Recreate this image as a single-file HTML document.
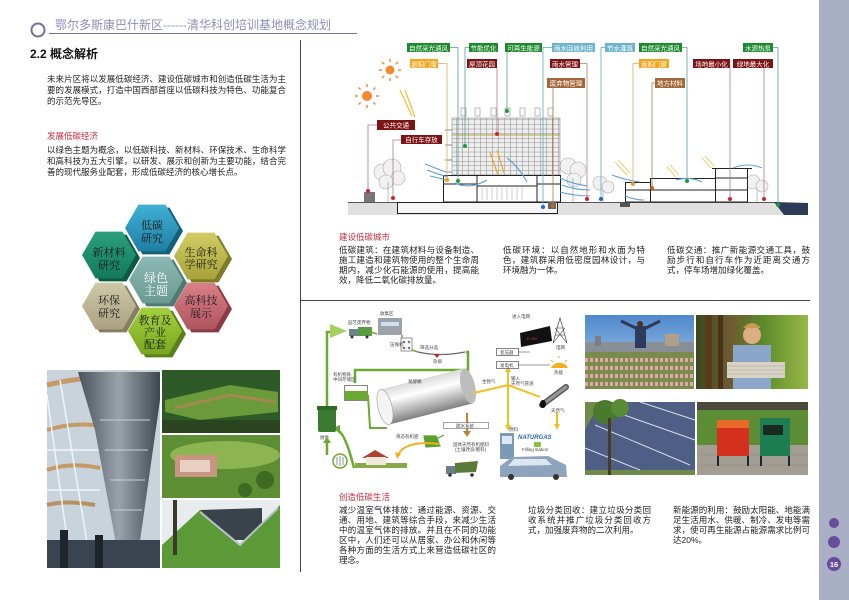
<!DOCTYPE html>
<html><head><meta charset="utf-8">
<style>
html,body{margin:0;padding:0;}
body{width:849px;height:600px;overflow:hidden;position:relative;background:#fff;font-family:"Liberation Sans","Noto Sans CJK SC",sans-serif;}
.t{position:absolute;font-size:8.5px;line-height:11px;color:#222;white-space:nowrap;}
.t div{text-align:justify;text-align-last:justify;}
.t div.l{text-align-last:left;}
.red{position:absolute;font-size:8.5px;line-height:10px;color:#c8283c;white-space:nowrap;}
svg{position:absolute;left:0;top:0;}
</style></head><body>
<svg width="849" height="600" viewBox="0 0 849 600" xmlns="http://www.w3.org/2000/svg">
<defs>
<pattern id="grid" width="6" height="4.6" patternUnits="userSpaceOnUse"><rect width="6" height="4.6" fill="#eeeeee"/><path d="M0,0.25H6M0.25,0V4.6" stroke="#8a8a8a" stroke-width="0.5"/></pattern>
<linearGradient id="cyl" gradientUnits="userSpaceOnUse" x1="380" y1="389" x2="389" y2="425"><stop offset="0" stop-color="#d8d8d8"/><stop offset="0.35" stop-color="#ffffff"/><stop offset="1" stop-color="#7e7e7e"/></linearGradient>
<linearGradient id="sky1" x1="0" y1="0" x2="0" y2="1"><stop offset="0" stop-color="#4f88cc"/><stop offset="1" stop-color="#b6d2ec"/></linearGradient>
<linearGradient id="dome" x1="0" y1="0" x2="1" y2="0"><stop offset="0" stop-color="#4a525c"/><stop offset="0.5" stop-color="#9aa3ac"/><stop offset="1" stop-color="#3e4650"/></linearGradient>
<linearGradient id="forest" x1="0" y1="0" x2="1" y2="0"><stop offset="0" stop-color="#3b4a1e"/><stop offset="0.3" stop-color="#6e5a30"/><stop offset="0.6" stop-color="#5c8a2a"/><stop offset="1" stop-color="#9ab848"/></linearGradient>
<linearGradient id="hT" x1="0" y1="0" x2="0" y2="1"><stop offset="0" stop-color="#3fb0d4"/><stop offset="1" stop-color="#1e7fa3"/></linearGradient>
<linearGradient id="hUL" x1="0" y1="0" x2="0" y2="1"><stop offset="0" stop-color="#2ba07c"/><stop offset="1" stop-color="#137a5c"/></linearGradient>
<linearGradient id="hUR" x1="0" y1="0" x2="0" y2="1"><stop offset="0" stop-color="#d2cc66"/><stop offset="1" stop-color="#a8a23a"/></linearGradient>
<linearGradient id="hC" x1="0" y1="0" x2="0" y2="1"><stop offset="0" stop-color="#8cbab2"/><stop offset="1" stop-color="#6a9a92"/></linearGradient>
<linearGradient id="hLL" x1="0" y1="0" x2="0" y2="1"><stop offset="0" stop-color="#cfc8a8"/><stop offset="1" stop-color="#aaa282"/></linearGradient>
<linearGradient id="hLR" x1="0" y1="0" x2="0" y2="1"><stop offset="0" stop-color="#d88088"/><stop offset="1" stop-color="#b0545e"/></linearGradient>
<linearGradient id="hB" x1="0" y1="0" x2="0" y2="1"><stop offset="0" stop-color="#a4d040"/><stop offset="1" stop-color="#78a820"/></linearGradient>
<polygon id="hex" points="27,0 13.5,23.4 -13.5,23.4 -27,0 -13.5,-23.4 13.5,-23.4"/>
</defs>

<!-- header -->
<circle cx="38" cy="30" r="6.5" fill="none" stroke="#6f6fa0" stroke-width="2"/>
<line x1="49" y1="33.5" x2="357" y2="33.5" stroke="#6f6fa0" stroke-width="1"/>
<!-- dividers -->
<line x1="300.5" y1="40" x2="300.5" y2="572" stroke="#444" stroke-width="1"/>
<line x1="300" y1="300.5" x2="810" y2="300.5" stroke="#444" stroke-width="1"/>
<!-- sidebar -->
<rect x="819" y="0" width="30" height="600" fill="#a9b0c6"/>
<circle cx="834" cy="523" r="5" fill="#6a4c9c"/>
<circle cx="834" cy="542" r="6" fill="#6a4c9c"/>
<circle cx="834" cy="564" r="7" fill="#6a4c9c"/>
<text x="834" y="567" font-size="7.5" font-weight="bold" fill="#fff" text-anchor="middle" font-family="Liberation Sans, sans-serif">16</text>

<!-- hexagons -->
<g font-family="Liberation Serif, Noto Serif CJK SC, serif" font-size="11" text-anchor="middle" fill="#1a1a1a">
<g transform="translate(156,280)"><use href="#hex" transform="translate(4,3)" fill="#4e7a74"/><use href="#hex" fill="url(#hC)"/></g>
<g transform="translate(152,228)"><use href="#hex" transform="translate(4,3)" fill="#156078"/><use href="#hex" fill="url(#hT)"/><text y="1">低碳</text><text y="14">研究</text></g>
<g transform="translate(109,255)"><use href="#hex" transform="translate(4,3)" fill="#0c5a42"/><use href="#hex" fill="url(#hUL)"/><text y="1">新材料</text><text y="14">研究</text></g>
<g transform="translate(201,256)"><use href="#hex" transform="translate(4,3)" fill="#7e7a26"/><use href="#hex" fill="url(#hUR)"/><text y="0">生命科</text><text y="12">学研究</text></g>
<g transform="translate(109,306)"><use href="#hex" transform="translate(4,3)" fill="#857e62"/><use href="#hex" fill="url(#hLL)"/><text y="-2">环保</text><text y="11">研究</text></g>
<g transform="translate(201,306)"><use href="#hex" transform="translate(4,3)" fill="#8a3a44"/><use href="#hex" fill="url(#hLR)"/><text y="-2">高科技</text><text y="11">展示</text></g>
<g transform="translate(155,331)"><use href="#hex" transform="translate(4,3)" fill="#5a8018"/><use href="#hex" fill="url(#hB)"/><text y="-7">教育及</text><text y="5">产业</text><text y="17">配套</text></g>
<g transform="translate(156,280)"><text y="2" fill="#fff" font-size="12">绿色</text><text y="15" fill="#fff" font-size="12">主题</text></g>
</g>

<!-- left photos -->
<g>
<rect x="47" y="370" width="113" height="198" fill="#c9d3dc"/>
<path d="M47,385 Q100,372 160,380" stroke="#c49a66" stroke-width="5" fill="none"/>
<path d="M47,430 Q80,420 110,428" stroke="#c49a66" stroke-width="4" fill="none"/>
<path d="M47,470 Q70,462 100,468" stroke="#c49a66" stroke-width="4" fill="none"/>
<path d="M47,505 Q65,500 95,505" stroke="#b89060" stroke-width="4" fill="none"/>
<path d="M47,395 L70,560 M60,380 L90,560 M47,450 L100,450 M47,490 L100,490" stroke="#f0f4f8" stroke-width="1.5" fill="none"/>
<polygon points="78,372 160,372 160,400 138,555 118,555 95,430" fill="url(#dome)"/>
<path d="M100,420 L150,420 M105,450 L148,450 M110,480 L145,480 M113,510 L142,510" stroke="#c7ced6" stroke-width="1"/>
<rect x="47" y="540" width="113" height="28" fill="#3a4350"/>
<rect x="60" y="530" width="8" height="38" fill="#1e242c"/><rect x="95" y="535" width="8" height="33" fill="#1e242c"/>
<rect x="162" y="370" width="118" height="63" fill="#2e5a28"/>
<polygon points="165,400 230,385 278,392 278,412 200,420 165,412" fill="#6a9a3a"/>
<path d="M175,408 L230,395 L275,402" stroke="#a08a50" stroke-width="3" fill="none"/>
<rect x="162" y="420" width="118" height="13" fill="#2a4520"/>
<rect x="162" y="435" width="118" height="63" fill="#5e8e34"/>
<ellipse cx="225" cy="455" rx="55" ry="14" fill="#8cb450"/>
<rect x="175" y="455" width="42" height="22" fill="#c89484"/>
<rect x="180" y="460" width="30" height="12" fill="#e8d0c0"/>
<circle cx="265" cy="480" r="9" fill="#3e6a24"/><circle cx="245" cy="490" r="7" fill="#3e6a24"/>
<rect x="162" y="500" width="118" height="68" fill="#e8ecef"/>
<polygon points="200,510 262,508 262,540 210,540" fill="#3a424c"/>
<polygon points="162,545 200,510 240,545 280,505 280,568 162,568" fill="#5c9a38"/>
<path d="M200,512 L240,545 L278,508" stroke="#b8c0c8" stroke-width="2" fill="none"/>
<rect x="173" y="500" width="4" height="55" fill="#3a3a2a"/>
</g>

<!-- right photos -->
<g>
<rect x="585" y="315" width="109" height="74" fill="url(#sky1)"/>
<rect x="585" y="342" width="109" height="12" fill="#8a8e96"/>
<rect x="595" y="336" width="6" height="10" fill="#7a7e86"/><rect x="665" y="334" width="14" height="12" fill="#b0a08a"/>
<rect x="585" y="352" width="109" height="37" fill="#7a8c4c"/>
<path d="M585,360 H694 M585,368 H694 M585,376 H694 M585,384 H694" stroke="#e0a8a8" stroke-width="4" stroke-dasharray="3 2"/>
<rect x="635" y="326" width="11" height="22" fill="#2e3a5c"/>
<path d="M621,321 L640,330 M660,321 L642,330" stroke="#2e3a5c" stroke-width="3"/>
<circle cx="640" cy="324" r="3" fill="#4a3426"/>
<rect x="696" y="315" width="112" height="74" fill="url(#forest)"/>
<rect x="705" y="315" width="7" height="74" fill="#5a3a1c"/><rect x="718" y="315" width="5" height="74" fill="#4a3018"/>
<rect x="733" y="345" width="38" height="44" fill="#8aa6c8"/>
<circle cx="752" cy="335" r="9" fill="#dcae86"/>
<path d="M743,328 Q752,318 761,328" fill="#c89a50"/>
<rect x="727" y="362" width="58" height="16" fill="#d8d2c4"/>
<path d="M727,366 H785 M727,370 H785 M727,374 H785" stroke="#a8a294" stroke-width="0.6"/>
<rect x="585" y="402" width="110" height="73" fill="#6f8a4a"/>
<polygon points="600,402 695,402 695,470 585,470 585,430" fill="#4e5e84"/>
<path d="M610,410 L695,440 M595,425 L690,465 M640,402 L695,420 M585,448 L640,470" stroke="#d6dde8" stroke-width="1"/>
<circle cx="605" cy="412" r="12" fill="#4a7a2e"/><circle cx="620" cy="408" r="9" fill="#5a8a36"/>
<rect x="608" y="418" width="3" height="57" fill="#4a3a28"/>
<rect x="697" y="402" width="111" height="73" fill="#5c8c34"/>
<rect x="697" y="402" width="111" height="8" fill="#4a4a3c"/>
<rect x="697" y="445" width="111" height="30" fill="#a39e94"/>
<path d="M697,455 H808 M697,465 H808" stroke="#8a857c" stroke-width="0.6"/>
<rect x="717" y="420" width="32" height="36" fill="#d4301e"/>
<rect x="717" y="420" width="32" height="8" fill="#e86a2a"/>
<rect x="760" y="418" width="30" height="38" fill="#1c7e52"/>
<rect x="763" y="425" width="20" height="10" fill="#1a2a22"/>
<path d="M718,456 V466 M748,456 V466 M761,456 V466 M789,456 V466" stroke="#1e2430" stroke-width="2"/>
</g>

<!-- building section diagram -->
<g>
<rect x="348" y="202" width="434" height="13" fill="#e0e0e0"/>
<line x1="348" y1="202.5" x2="775" y2="202.5" stroke="#555" stroke-width="1"/>
<polygon points="774,202 808,203 808,215 784,215" fill="#2e3b56"/>
<rect x="397.5" y="202.5" width="160" height="11" fill="#f6f6f6" stroke="#222" stroke-width="1"/>
<rect x="620" y="202" width="10" height="5" fill="#555"/>
<g fill="#f1f1f1" stroke="#aaa" stroke-width="0.6">
<circle cx="382" cy="172" r="8"/><circle cx="392" cy="168" r="9"/><circle cx="398" cy="178" r="7"/><circle cx="386" cy="182" r="7"/>
<circle cx="568" cy="166" r="8"/><circle cx="578" cy="170" r="8"/><circle cx="574" cy="180" r="7"/>
<circle cx="600" cy="183" r="7"/><circle cx="608" cy="187" r="6"/>
<circle cx="753" cy="182" r="7"/><circle cx="762" cy="186" r="6"/>
</g>
<path d="M388,202 V182 M573,202 V178 M603,202 V190 M757,202 V190" stroke="#aaa" stroke-width="0.8"/>
<rect x="452" y="118" width="108" height="57" fill="url(#grid)" stroke="#777" stroke-width="0.5"/>
<line x1="452" y1="135" x2="560" y2="135" stroke="#b4a642" stroke-width="1"/>
<g fill="#fff" stroke="#888" stroke-width="0.6">
<rect x="461" y="108" width="5" height="8"/><rect x="475" y="108" width="5" height="8"/><rect x="491" y="108" width="5" height="8"/><rect x="505" y="108" width="5" height="8"/><rect x="520" y="108" width="5" height="8"/><rect x="535" y="108" width="5" height="8"/><rect x="548" y="108" width="5" height="8"/>
</g>
<path d="M445,130 H452 M445,145 H452 M445,160 H452 M446,172 H452" stroke="#666" stroke-width="0.8"/>
<rect x="443.5" y="175.5" width="117" height="26.5" fill="#fff" stroke="#222" stroke-width="1"/>
<path d="M443,184 H477 M477,176 V202 M537,176 V202 M477,186 H537 M537,184 H560" stroke="#222" stroke-width="1" fill="none"/>
<path d="M482,186 V200 M487,186 V200 M492,186 V200 M497,186 V200 M502,186 V200 M507,186 V200 M512,186 V200 M517,186 V200 M522,186 V200" stroke="#999" stroke-width="0.5"/>
<rect x="548" y="202" width="8" height="7" fill="#666"/>
<rect x="625.5" y="182.5" width="38" height="19.5" fill="#fff" stroke="#222"/>
<rect x="650.5" y="178.5" width="65" height="23.5" fill="#fff" stroke="#222"/>
<rect x="715.5" y="168.5" width="32" height="33.5" fill="#fff" stroke="#222"/>
<path d="M625,190 H747 M715,178 H747 M712,168.5 H752" stroke="#222" stroke-width="1"/>
<g stroke="#f08a30" stroke-width="1.4">
<circle cx="390" cy="70" r="4.5" fill="#f08a30" stroke="none"/>
<path d="M390,62 V59 M390,78 V81 M382,70 H379 M398,70 H401 M384.3,64.3 L382,62 M395.7,64.3 L398,62 M384.3,75.7 L382,78 M395.7,75.7 L398,78"/>
<circle cx="367" cy="96" r="5" fill="#f08a30" stroke="none"/>
<path d="M367,87 V84 M367,105 V108 M358,96 H355 M376,96 H379 M360.6,89.6 L358.5,87.5 M373.4,89.6 L375.5,87.5 M360.6,102.4 L358.5,104.5 M373.4,102.4 L375.5,104.5"/>
</g>
<path d="M400,90 L412,116 M405,90 L415,117" stroke="#e8c040" stroke-width="1.2"/>
<path d="M490,152 L498,175 M497,150 L504,173" stroke="#e8a828" stroke-width="1.2"/>
<path d="M615,162 L627,175 M618,160 L630,173 M667,167 L676,177 M670,165 L679,175 M702,158 L711,168 M705,156 L714,166" stroke="#e8c040" stroke-width="0.8"/>
<g stroke="#5aa0d0" stroke-width="1.1" fill="none">
<path d="M425,164 Q435,168 446,172"/><path d="M427,170 Q437,174 448,177"/><path d="M430,176 Q440,178 449,181"/>
<path d="M455,183 Q470,190 487,180"/><path d="M507,158 Q518,166 527,182"/>
<path d="M560,178 Q572,184 588,186"/><path d="M562,185 Q575,190 590,190"/><path d="M560,192 Q575,196 590,196"/>
<path d="M612,175 Q625,180 640,182"/><path d="M625,196 Q635,200 644,200"/>
<path d="M676,180 Q690,176 702,182"/><path d="M733,168 Q748,162 762,168"/>
</g>
<g fill="none" stroke-width="0.8">
<path d="M450,47.5 H458 V181" stroke="#5a9aa0"/>
<path d="M469,47.5 H465 V146" stroke="#5a9aa0"/>
<path d="M507,52 V111" stroke="#5a9aa0"/>
<path d="M552,47.5 H543 V207" stroke="#5aa8c8"/>
<path d="M580,63.5 H587 V199" stroke="#b47a86"/>
<path d="M553,88 V206" stroke="#a87850"/>
<path d="M605,47.5 H601 V199" stroke="#5aa8c8"/>
<path d="M639,63.5 H633 V184" stroke="#d8b060"/>
<path d="M655,83 H652 V188" stroke="#a87850"/>
<path d="M682,47.5 H687 V181" stroke="#5a9aa0"/>
<path d="M730,68 V199" stroke="#b47a86"/>
<path d="M764,68 V199" stroke="#b47a86"/>
<path d="M773,47.5 H778 V205" stroke="#5a9aa0"/>
<path d="M438,63.5 H447 V180" stroke="#d8b060"/>
<path d="M497,68 V134" stroke="#b47a86"/>
<path d="M377,125 H368 V191" stroke="#b47a86"/>
<path d="M401,140 H393 V198" stroke="#b47a86"/>
</g>
<rect x="364" y="192" width="11" height="10" fill="#777"/>
<g>
<circle cx="458" cy="181" r="2" fill="#1d9a3c"/><circle cx="465" cy="146" r="2" fill="#1d9a3c"/><circle cx="507" cy="111" r="2" fill="#1d9a3c"/>
<circle cx="543" cy="207" r="2" fill="#1a6ac0"/><circle cx="587" cy="199" r="2" fill="#d0202c"/><circle cx="553" cy="206" r="2" fill="#c06820"/>
<circle cx="601" cy="199" r="2" fill="#1a6ac0"/><circle cx="633" cy="184" r="2" fill="#f0a020"/><circle cx="652" cy="188" r="2" fill="#c06820"/>
<circle cx="687" cy="181" r="2" fill="#1d9a3c"/><circle cx="730" cy="199" r="2" fill="#d0202c"/><circle cx="764" cy="199" r="2" fill="#d0202c"/>
<circle cx="778" cy="205" r="2" fill="#1d9a3c"/><circle cx="447" cy="180" r="2" fill="#f0a020"/><circle cx="497" cy="134" r="2" fill="#d0202c"/>
<circle cx="368" cy="191" r="2" fill="#d0202c"/><circle cx="393" cy="198" r="2" fill="#d0202c"/>
</g>
<g font-size="6.5" fill="#fff" text-anchor="middle" font-family="Liberation Sans, Noto Sans CJK SC, sans-serif">
<rect x="407" y="43" width="43" height="9" fill="#1d8a2c"/><text x="428.5" y="50.3">自然采光通风</text>
<rect x="469" y="43" width="29" height="9" fill="#1d8a2c"/><text x="483.5" y="50.3">节能优化</text>
<rect x="505" y="43" width="37" height="9" fill="#1d8a2c"/><text x="523.5" y="50.3">可再生能源</text>
<rect x="552" y="43" width="43" height="9" fill="#6db3cc"/><text x="573.5" y="50.3">雨水回收利用</text>
<rect x="605" y="43" width="30" height="9" fill="#6db3cc"/><text x="620" y="50.3">节水灌溉</text>
<rect x="639" y="43" width="43" height="9" fill="#1d8a2c"/><text x="660.5" y="50.3">自然采光通风</text>
<rect x="743" y="43" width="30" height="9" fill="#1d8a2c"/><text x="758" y="50.3">水源热泵</text>
<rect x="410" y="59" width="28" height="9" fill="#f3a51c"/><text x="424" y="66.3">遮阳门窗</text>
<rect x="467" y="59" width="30" height="9" fill="#7d1315"/><text x="482" y="66.3">屋顶花园</text>
<rect x="550" y="59" width="30" height="9" fill="#7d1315"/><text x="565" y="66.3">雨水管理</text>
<rect x="639" y="59" width="30" height="9" fill="#f3a51c"/><text x="654" y="66.3">遮阳门窗</text>
<rect x="693" y="59" width="37" height="9" fill="#7d1315"/><text x="711.5" y="66.3">场地最小化</text>
<rect x="733" y="59" width="40" height="9" fill="#7d1315"/><text x="753" y="66.3">绿地最大化</text>
<rect x="547" y="78" width="38" height="10" fill="#a3683a"/><text x="566" y="85.5">废弃物管理</text>
<rect x="655" y="78" width="30" height="10" fill="#a3683a"/><text x="670" y="85.5">地方材料</text>
<rect x="377" y="120" width="38" height="10" fill="#7d1315"/><text x="396" y="127.5">公共交通</text>
<rect x="401" y="135" width="41" height="9" fill="#7d1315"/><text x="421.5" y="142">自行车存放</text>
</g>
</g>

<!-- waste / biogas diagram -->
<g font-family="Liberation Sans, Noto Sans CJK SC, sans-serif" font-size="4.5" fill="#444">
<path d="M327,407 V332 H331" stroke="#6aaa30" stroke-width="2.5" fill="none"/>
<polygon points="330,324 347,331 330,338" fill="#a8d060"/>
<rect x="349" y="329" width="10" height="7" fill="#6e8088"/><rect x="358" y="327" width="14" height="9" fill="#5a9a40"/>
<circle cx="352" cy="337" r="1.5" fill="#333"/><circle cx="367" cy="337" r="1.5" fill="#333"/>
<path d="M371,332 L377,334" stroke="#6aaa30" stroke-width="1.5"/>
<rect x="378" y="318" width="24" height="17" fill="#9ca2aa"/><rect x="381" y="322" width="18" height="4" fill="#cfe0ee"/>
<text x="380" y="315">收集区</text><text x="348" y="324">园艺废弃物</text>
<path d="M402,335 V338" stroke="#6aaa30" stroke-width="1.5"/>
<rect x="401" y="338" width="11" height="13" fill="#fff" stroke="#777" stroke-width="0.8"/>
<circle cx="404" cy="342" r="1.3" fill="#777"/><circle cx="409" cy="342" r="1.3" fill="#777"/><circle cx="404" cy="348" r="1.3" fill="#777"/><circle cx="409" cy="348" r="1.3" fill="#777"/>
<text x="390" y="346">压缩机</text>
<path d="M412,350 L418,352" stroke="#6aaa30" stroke-width="1.5"/>
<path d="M418,352 Q440,357 465,352" stroke="#666" stroke-width="1.2" fill="none"/>
<polygon points="434,354 440,354 437,358" fill="#c02020"/>
<text x="420" y="349">筛选分选</text><text x="433" y="363">杂质</text>
<path d="M466,352 H468 V370 H355 V383" stroke="#6aaa30" stroke-width="2.5" fill="none"/>
<rect x="344.5" y="385.5" width="23" height="15" fill="#fff" stroke="#666" stroke-width="0.8"/>
<rect x="345" y="391" width="22" height="9" fill="#6aaa30"/>
<text x="333" y="376">有机物质</text><text x="333" y="381">中间存储区</text>
<path d="M368,395 L370,428 H387" stroke="#6aaa30" stroke-width="2" fill="none"/>
<polygon points="380.6,389.5 463.6,368.5 472.4,403.5 389.4,424.5" fill="url(#cyl)"/>
<ellipse cx="468" cy="386" rx="7" ry="18" transform="rotate(-14 468 386)" fill="#bdbdbd"/>
<ellipse cx="385" cy="407" rx="7" ry="18" transform="rotate(-14 385 407)" fill="#f4f4f4" stroke="#9a9a9a" stroke-width="0.6"/>
<text x="408" y="383">发酵桶</text>
<path d="M474,393 L508,385 L540,397" stroke="#f0c020" stroke-width="2" fill="none"/>
<path d="M508,372 V427" stroke="#f0c020" stroke-width="2"/>
<polygon points="505,372 511,372 508,366" fill="#f0c020"/>
<polygon points="505,425 511,425 508,431" fill="#f0c020"/>
<path d="M557,412 V425" stroke="#f0c020" stroke-width="2"/>
<polygon points="554,424 560,424 557,430" fill="#f0c020"/>
<text x="482" y="383">生物气</text><text x="511" y="380">输入</text><text x="511" y="385">天然气管道</text><text x="551" y="412">天然气</text>
<rect x="496.5" y="348.5" width="22" height="7" fill="#fff" stroke="#333" stroke-width="0.6"/><text x="500" y="354">变压器</text>
<rect x="496.5" y="361.5" width="22" height="7" fill="#fff" stroke="#333" stroke-width="0.6"/><text x="500" y="367">发电机</text>
<path d="M518,352 H530 M518,365 H550" stroke="#333" stroke-width="0.6"/>
<polygon points="520,333 550,326 552,341 521,347" fill="#111"/>
<text x="527" y="340" fill="#e03030" font-size="4">E.ON</text>
<path d="M553,343 L560,318 L567,343 M555,335 H565 M556,328 H564 M553,343 L565,328 M567,343 L555,328" stroke="#333" stroke-width="0.6" fill="none"/>
<text x="556" y="349">电网</text><text x="512" y="318">进入电网</text>
<path d="M551,368 A9,8 0 0 1 568,368 Z" fill="#f3b020"/>
<path d="M559,356 V358 M551,360 L553,362 M567,360 L565,362" stroke="#f08020" stroke-width="0.8"/>
<text x="554" y="374">热能</text>
<path d="M542,405 L566,387" stroke="#555" stroke-width="6" stroke-linecap="round"/>
<path d="M542,405 L566,387" stroke="#999" stroke-width="3" stroke-linecap="round"/>
<ellipse cx="543" cy="404" rx="3" ry="4" fill="#111"/>
<rect x="500" y="433" width="14" height="26" fill="#7a9ab8"/><rect x="502" y="436" width="10" height="8" fill="#dfe8f0"/>
<text x="518" y="439" fill="#2a68b8" font-size="6" font-style="italic" font-weight="bold">NATURGAS</text>
<rect x="534" y="442" width="7" height="5" fill="#8cc040"/><text x="522" y="451">Filling station</text>
<path d="M500,477 L500,466 L512,457 L548,456 L566,465 L567,477 Z" fill="#8ea4bc"/>
<path d="M514,459 L546,459 L552,465 L508,466 Z" fill="#dde6ee"/>
<circle cx="511" cy="477" r="3" fill="#333"/><circle cx="556" cy="477" r="3" fill="#333"/>
<text x="509" y="431">燃料</text>
<path d="M467,413 V433" stroke="#b8862a" stroke-width="2"/>
<polygon points="463,431 471,431 467,437" fill="#b8862a"/>
<rect x="443.5" y="422.5" width="45" height="6" fill="#fff" stroke="#666" stroke-width="0.6"/>
<text x="456" y="427.5">脱水系统</text>
<path d="M424,436 L436,436 L440,446 L426,447 Z M436,439 L444,435" fill="#5aa030" stroke="#5aa030" stroke-width="1.2"/>
<path d="M440,444 Q405,440 398,455" stroke="#f0b020" stroke-width="2" fill="none"/>
<polygon points="395,452 401,454 397,459" fill="#f0b020"/>
<text x="396" y="438">液态有机肥</text><text x="453" y="446">固体天然有机肥料</text><text x="455" y="451">(土壤改良/肥料)</text>
<rect x="355" y="463" width="52" height="5" fill="#8aa848"/>
<polygon points="362,458 375,450 389,458" fill="#b04030"/>
<rect x="366" y="457" width="20" height="8" fill="#f2ead8"/>
<rect x="446" y="466" width="10" height="8" fill="#6e7e88"/><polygon points="455,463 478,461 476,472 455,473" fill="#5a7a3a"/>
<circle cx="450" cy="475" r="1.8" fill="#333"/><circle cx="472" cy="475" r="1.8" fill="#333"/>
<path d="M354,468 Q345,432 337,430" stroke="#6aaa30" stroke-width="2.5" fill="none"/>
<polygon points="333,428 340,425 340,434" fill="#6aaa30"/>
<rect x="318" y="408" width="18" height="24" rx="2" fill="#3c7a32"/><rect x="317" y="406" width="20" height="4" fill="#2e6a28"/>
<text x="320" y="439">厨余</text>
<circle cx="340" cy="461" r="7" fill="#fff" stroke="#6aaa30" stroke-width="1.5"/>
<path d="M337,457 V465 M340,456 V466 M343,457 V465" stroke="#777" stroke-width="0.8"/>
<path d="M327,455 V442" stroke="#6aaa30" stroke-width="2.5"/>
<polygon points="323,443 331,443 327,437" fill="#6aaa30"/>
</g>
</svg>

<div style="position:absolute;left:55px;top:18px;font-size:12px;line-height:15px;color:#8b8fb8;white-space:nowrap;">鄂尔多斯康巴什新区------清华科创培训基地概念规划</div>
<div style="position:absolute;left:30px;top:47px;font-size:12px;line-height:15px;color:#111;white-space:nowrap;font-weight:bold;">2.2 概念解析</div>

<div class="t" style="left:47px;top:74px;width:239px;">
<div>未来片区将以发展低碳经济、建设低碳城市和创造低碳生活为主</div>
<div>要的发展模式，打造中国西部首座以低碳科技为特色、功能复合</div>
<div class="l">的示范先导区。</div>
</div>
<div class="red" style="left:47px;top:131px;">发展低碳经济</div>
<div class="t" style="left:47px;top:145px;width:239px;">
<div>以绿色主题为概念，以低碳科技、新材料、环保技术、生命科学</div>
<div>和高科技为五大引擎，以研发、展示和创新为主要功能，结合完</div>
<div class="l">善的现代服务业配套，形成低碳经济的核心增长点。</div>
</div>

<div class="red" style="left:339px;top:232px;">建设低碳城市</div>
<div class="t" style="left:339px;top:245px;width:140px;line-height:10px;">
<div>低碳建筑：在建筑材料与设备制造、</div>
<div>施工建造和建筑物使用的整个生命周</div>
<div>期内，减少化石能源的使用，提高能</div>
<div class="l">效，降低二氧化碳排放量。</div>
</div>
<div class="t" style="left:503px;top:245px;width:142px;line-height:10px;">
<div>低碳环境：以自然地形和水面为特</div>
<div>色，建筑群采用低密度园林设计，与</div>
<div class="l">环境融为一体。</div>
</div>
<div class="t" style="left:667px;top:245px;width:143px;line-height:10px;">
<div>低碳交通：推广新能源交通工具，鼓</div>
<div>励步行和自行车作为近距离交通方</div>
<div class="l">式，停车场增加绿化覆盖。</div>
</div>

<div class="red" style="left:339px;top:492px;">创造低碳生活</div>
<div class="t" style="left:339px;top:505px;width:157px;line-height:10px;">
<div>减少温室气体排放：通过能源、资源、交</div>
<div>通、用地、建筑等综合手段，来减少生活</div>
<div>中的温室气体的排放。并且在不同的功能</div>
<div>区中，人们还可以从居家、办公和休闲等</div>
<div>各种方面的生活方式上来营造低碳社区的</div>
<div class="l">理念。</div>
</div>
<div class="t" style="left:528px;top:505px;width:123px;line-height:10px;">
<div>垃圾分类回收：建立垃圾分类回</div>
<div>收系统并推广垃圾分类回收方</div>
<div class="l">式，加强废弃物的二次利用。</div>
</div>
<div class="t" style="left:673px;top:505px;width:137px;line-height:10px;">
<div>新能源的利用：鼓励太阳能、地能满</div>
<div>足生活用水、供暖、制冷、发电等需</div>
<div>求，使可再生能源占能源需求比例可</div>
<div class="l">达20%。</div>
</div>
</body></html>
